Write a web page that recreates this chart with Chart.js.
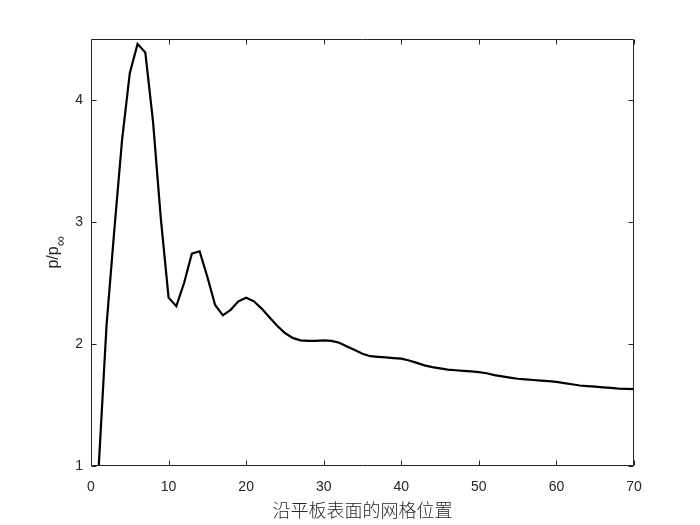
<!DOCTYPE html>
<html><head><meta charset="utf-8">
<script src="https://cdn.jsdelivr.net/npm/chart.js@4.4.0/dist/chart.umd.min.js"></script>
<style>html,body{margin:0;padding:0;background:#fff}</style>
</head><body>
<canvas id="c" width="700" height="525"></canvas>
<script>
const gridIndex = [];
for (let i = 1; i <= 70; i++) gridIndex.push(i);
const pressureRatio = [
  1.00, 2.15, 2.93, 3.67, 4.22, 4.46, 4.39, 3.82, 3.03, 2.38,
  2.31, 2.50, 2.74, 2.76, 2.55, 2.32, 2.235, 2.28, 2.35, 2.38,
  2.35, 2.29, 2.22, 2.15, 2.09, 2.05, 2.03, 2.025, 2.025, 2.03,
  2.025, 2.01, 1.98, 1.95, 1.92, 1.90, 1.895, 1.89, 1.885, 1.88,
  1.865, 1.845, 1.825, 1.81, 1.80, 1.79, 1.785, 1.78, 1.775, 1.77,
  1.76, 1.745, 1.735, 1.725, 1.715, 1.71, 1.705, 1.70, 1.695, 1.69,
  1.68, 1.67, 1.66, 1.655, 1.65, 1.645, 1.64, 1.635, 1.632, 1.63
];
const xTicks = [0, 10, 20, 30, 40, 50, 60, 70];
const yTicks = [1, 2, 3, 4];
const xLabel = '沿平板表面的网格位置';
const yLabelMain = 'p/p';
const yLabelSub = '∞';

const axisColor = '#262626';
const tickFont = '"Liberation Sans", Arial, sans-serif';

const matlabAxes = {
  id: 'matlabAxes',
  afterDraw(chart) {
    const ctx = chart.ctx;
    const a = chart.chartArea;
    const xs = chart.scales.x, ys = chart.scales.y;
    ctx.save();
    ctx.strokeStyle = axisColor;
    ctx.lineWidth = 1;
    const L = Math.round(a.left) + 0.5, R = Math.round(a.right) - 0.5;
    const T = Math.round(a.top) + 0.5, B = Math.round(a.bottom) - 0.5;
    ctx.beginPath();
    ctx.rect(L, T, R - L, B - T);
    const tl = 5;
    xTicks.forEach(v => {
      const px = Math.round(xs.getPixelForValue(v)) + 0.5;
      ctx.moveTo(px, B); ctx.lineTo(px, B - tl);
      ctx.moveTo(px, T); ctx.lineTo(px, T + tl);
    });
    yTicks.forEach(v => {
      const py = Math.round(ys.getPixelForValue(v)) + 0.5;
      ctx.moveTo(L, py); ctx.lineTo(L + tl, py);
      ctx.moveTo(R, py); ctx.lineTo(R - tl, py);
    });
    ctx.stroke();

    // x label
    ctx.fillStyle = axisColor;
    ctx.font = '300 18px "Noto Sans CJK SC", sans-serif';
    ctx.textAlign = 'center';
    ctx.textBaseline = 'middle';
    ctx.fillText(xLabel, (a.left + a.right) / 2, 510);

    // y label with subscript
    ctx.save();
    ctx.translate(58, (a.top + a.bottom) / 2);
    ctx.rotate(-Math.PI / 2);
    ctx.textBaseline = 'alphabetic';
    ctx.textAlign = 'left';
    ctx.font = '16px ' + tickFont;
    const w1 = ctx.measureText(yLabelMain).width;
    ctx.font = '14px ' + tickFont;
    const w2 = ctx.measureText(yLabelSub).width;
    const start = -(w1 + w2) / 2;
    ctx.font = '16px ' + tickFont;
    ctx.fillText(yLabelMain, start, 0);
    ctx.font = '14px ' + tickFont;
    ctx.fillText(yLabelSub, start + w1, 7);
    ctx.restore();
    ctx.restore();
  }
};

new Chart(document.getElementById('c'), {
  type: 'line',
  data: {
    datasets: [{
      data: gridIndex.map((g, i) => ({ x: g, y: pressureRatio[i] })),
      borderColor: '#000000',
      borderWidth: 2.2,
      pointRadius: 0,
      tension: 0,
      fill: false
    }]
  },
  options: {
    responsive: false,
    animation: false,
    devicePixelRatio: 1,
    layout: { padding: { top: 39, right: 66, left: 0, bottom: 0 } },
    plugins: { legend: { display: false }, tooltip: { enabled: false } },
    scales: {
      x: {
        type: 'linear', min: 0, max: 70,
        afterBuildTicks: s => { s.ticks = xTicks.map(v => ({ value: v })); },
        afterFit: s => { s.height = 59; },
        grid: { display: false, drawTicks: false },
        border: { display: false },
        ticks: { color: axisColor, font: { family: tickFont, size: 14 }, padding: 13, maxRotation: 0 }
      },
      y: {
        type: 'linear', min: 1, max: 4.5,
        afterBuildTicks: s => { s.ticks = yTicks.map(v => ({ value: v })); },
        afterFit: s => { s.width = 91; },
        grid: { display: false, drawTicks: false },
        border: { display: false },
        ticks: { color: axisColor, font: { family: tickFont, size: 14 }, padding: 8 }
      }
    }
  },
  plugins: [matlabAxes]
});
</script>
</body></html>
